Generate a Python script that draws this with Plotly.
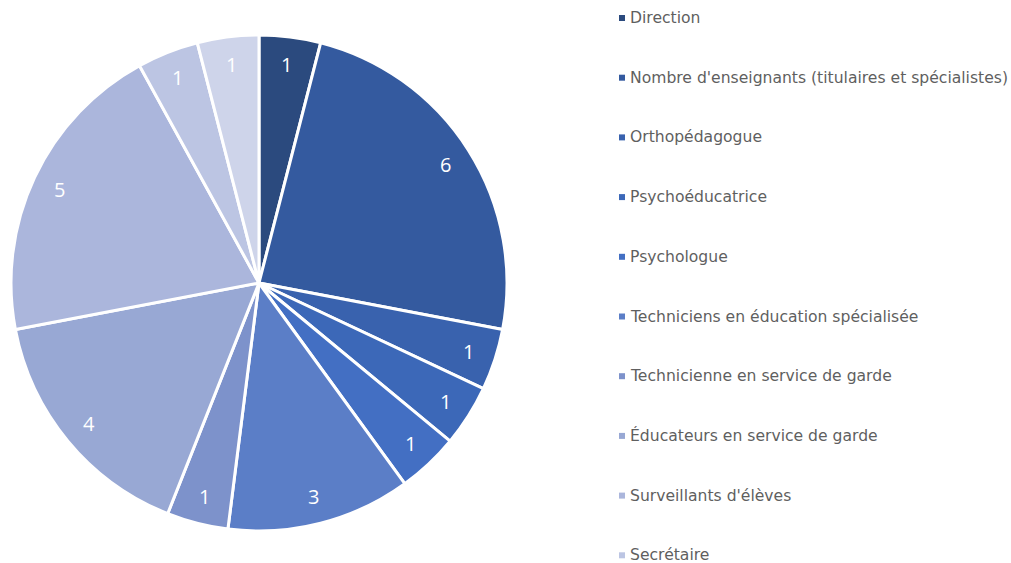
import math
import plotly.graph_objects as go

labels = [
    "Direction",
    "Nombre d'enseignants (titulaires et spécialistes)",
    "Orthopédagogue",
    "Psychoéducatrice",
    "Psychologue",
    "Techniciens en éducation spécialisée",
    "Technicienne en service de garde",
    "Éducateurs en service de garde",
    "Surveillants d'élèves",
    "Secrétaire",
    "Concierge",
]
values = [1, 6, 1, 1, 1, 3, 1, 4, 5, 1, 1]
colors = [
    "#2B4A7E", "#345A9F", "#3962AE", "#3C68B8", "#436FC3",
    "#5B7EC7", "#7D92CB", "#98A8D4", "#ABB6DC", "#BCC5E3", "#CED4EA",
]

W, H = 1011, 563
cx, cy, R = 259, 283, 248

fig = go.Figure()
fig.add_trace(go.Pie(
    labels=labels,
    values=values,
    sort=False,
    direction="clockwise",
    rotation=0,
    marker=dict(colors=colors, line=dict(color="white", width=3)),
    textinfo="none",
    hoverinfo="label+value",
    showlegend=False,
    domain=dict(x=[(cx - R) / W, (cx + R) / W], y=[(H - cy - R) / H, (H - cy + R) / H]),
))

annotations = []
# slice value labels, placed from the cumulative values
total = sum(values)
cum = 0
for v in values:
    mid = (cum + v / 2) / total * 2 * math.pi
    cum += v
    r = 0.89 * R
    x = cx + r * math.sin(mid)
    y = cy - r * math.cos(mid)
    annotations.append(dict(
        x=x / W, y=1 - y / H, xref="paper", yref="paper",
        text=str(v), showarrow=False, xanchor="center", yanchor="middle",
        font=dict(family="Open Sans, Noto Sans, sans-serif", size=20, color="white"),
    ))

# legend
y0, dy = 18, 59.7
shapes = []
for i, (lab, col) in enumerate(zip(labels, colors)):
    yy = y0 + i * dy
    annotations.append(dict(
        x=628 / W, y=1 - yy / H, xref="paper", yref="paper",
        text=lab, showarrow=False, xanchor="left", yanchor="middle",
        font=dict(family="DejaVu Sans, sans-serif", size=15.6, color="#5f5f5f"),
    ))
    shapes.append(dict(
        type="rect", xref="paper", yref="paper",
        x0=619 / W, x1=625 / W, y0=1 - (yy + 3) / H, y1=1 - (yy - 3) / H,
        fillcolor=col, line=dict(width=0),
    ))

fig.update_layout(
    width=W, height=H,
    margin=dict(l=0, r=0, t=0, b=0),
    paper_bgcolor="white",
    plot_bgcolor="white",
    annotations=annotations,
    shapes=shapes,
)

fig.write_html(
    "out.html",
    config={"displayModeBar": False},
    post_script="document.body.style.margin='0';document.body.style.overflow='hidden';",
)
